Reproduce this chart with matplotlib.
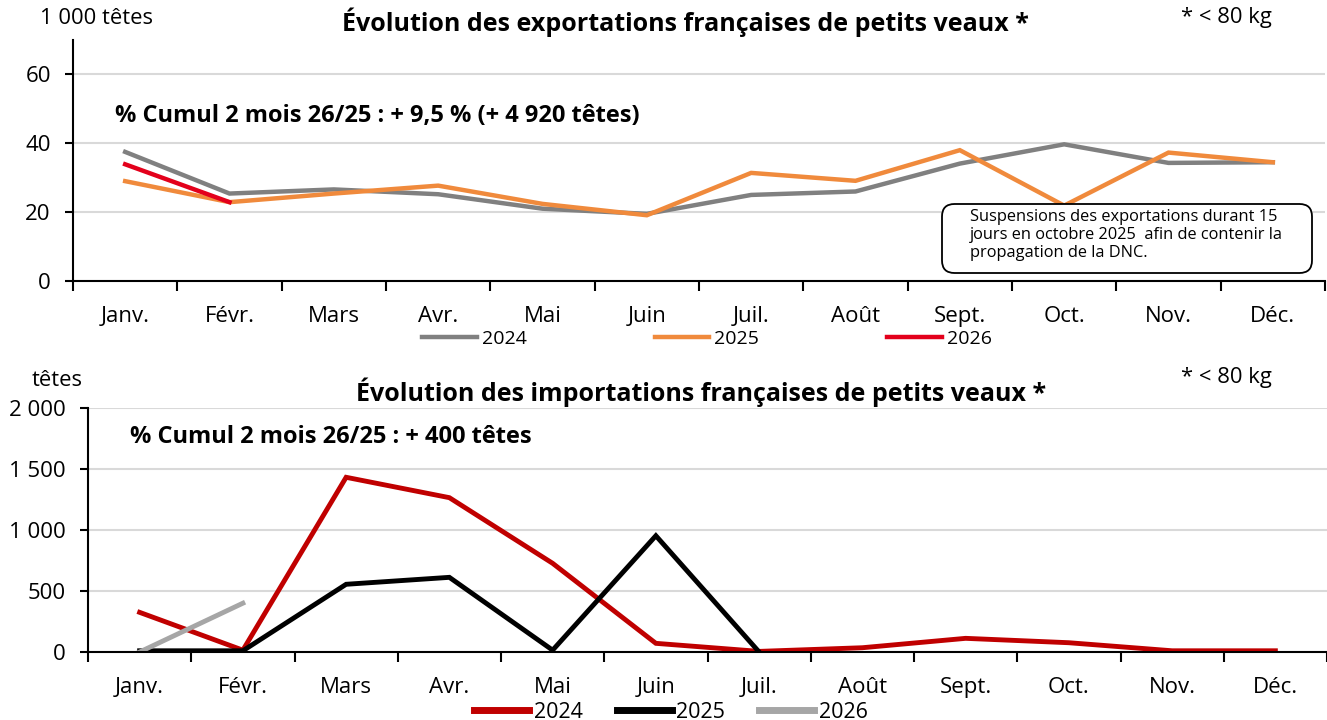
import numpy as np
import matplotlib
matplotlib.use("Agg")
import matplotlib.pyplot as plt
from matplotlib.patches import FancyBboxPatch

plt.rcParams['font.family'] = ['Open Sans', 'DejaVu Sans']

# months (x categories)
months = ["Janv.", "Févr.", "Mars", "Avr.", "Mai", "Juin",
          "Juil.", "Août", "Sept.", "Oct.", "Nov.", "Déc."]

# exports, 1000 heads
exp_2024 = [37.5, 25.4, 26.6, 25.2, 21.0, 19.5, 25.0, 26.0, 34.1, 39.7, 34.3, 34.5]
exp_2025 = [29.0, 22.9, 25.4, 27.7, 22.4, 19.1, 31.4, 29.1, 38.0, 21.9, 37.3, 34.5]
exp_2026 = [33.9, 22.9]

# imports, heads
imp_2024 = [325, 15, 1432, 1265, 727, 71, 5, 35, 112, 76, 10, 10]
imp_2025 = [10, 10, 555, 612, 15, 953, 0]
imp_2026 = [0, 400]

W, H = 1327, 720
fig = plt.figure(figsize=(W / 100, H / 100), dpi=100)

def px_axes(l, t, r, b):
    return fig.add_axes([l / W, 1 - b / H, (r - l) / W, (b - t) / H])

def style_axes(ax, ymax, yticks, yticklabels):
    ax.set_ylim(0, ymax)
    ax.set_yticks(yticks)
    ax.set_yticklabels(yticklabels)
    ax.grid(axis='y', color='#d9d9d9', lw=1.5)
    ax.set_axisbelow(True)
    for s in ['top', 'right']:
        ax.spines[s].set_visible(False)
    ax.spines['left'].set_linewidth(1.5)
    ax.spines['bottom'].set_linewidth(1.5)
    ax.spines['bottom'].set_zorder(5)
    ax.set_xticks(range(12))
    ax.set_xticklabels(months)
    ax.set_xticks(np.arange(-0.5, 12, 1), minor=True)
    ax.tick_params(axis='x', which='major', length=0, pad=18, labelsize=16)
    ax.tick_params(axis='x', which='minor', length=7, width=1.5, direction='out')
    ax.tick_params(axis='y', length=6, width=1.5, labelsize=16, pad=10)

# ---------- exports ----------
ax1 = px_axes(73, 40, 1325, 281)
x = np.arange(12)
ax1.plot(x, exp_2024, color='#808080', lw=3.2, label='2024', solid_joinstyle='miter')
ax1.plot(x, exp_2025, color='#f08a3c', lw=3.2, label='2025', solid_joinstyle='miter')
ax1.plot(x[:len(exp_2026)], exp_2026, color='#e3001b', lw=3.2, label='2026')
ax1.set_xlim(-0.5, 11.5)
style_axes(ax1, 70, [0, 20, 40, 60], ['0', '20', '40', '60'])

fig.text(685 / W, 1 - 22 / H, "Évolution des exportations françaises de petits veaux *",
         ha='center', va='center', fontsize=18, fontweight='bold')
fig.text(40 / W, 1 - 18 / H, "1 000 têtes", ha='left', va='center', fontsize=15.8)
fig.text(1272 / W, 1 - 18 / H, "* < 80 kg", ha='right', va='center', fontsize=15.8)
fig.text(115 / W, 1 - 116 / H, "% Cumul 2 mois 26/25 : + 9,5 % (+ 4 920 têtes)",
         ha='left', va='center', fontsize=17, fontweight='bold')

box = FancyBboxPatch(((942 - 73) / 1252, (281 - 273) / 241),
                     (1312 - 942) / 1252, (273 - 204) / 241,
                     boxstyle='round,pad=0,rounding_size=0.01',
                     transform=ax1.transAxes, fc='white', ec='black', lw=1.3,
                     mutation_aspect=1252 / 241, zorder=6)
ax1.add_patch(box)
ax1.text((970 - 73) / 1252, (281 - 209) / 241,
         "Suspensions des exportations durant 15\njours en octobre 2025  afin de contenir la\npropagation de la DNC.",
         transform=ax1.transAxes, ha='left', va='top', fontsize=11.8,
         linespacing=1.15, zorder=7)

fig.legend(handles=ax1.get_lines(), loc='center', bbox_to_anchor=(707 / W, 1 - 339 / H),
           ncol=3, frameon=False, fontsize=14, handlelength=2.8, handletextpad=0.25,
           columnspacing=6.6, borderpad=0)

# ---------- imports ----------
ax2 = px_axes(88, 408, 1327, 652)
ax2.plot(x, imp_2024, color='#c00000', lw=3.5, label='2024', solid_joinstyle='miter')
ax2.plot(x[:len(imp_2025)], imp_2025, color='#000000', lw=3.5, label='2025', solid_joinstyle='miter')
ax2.plot(x[:len(imp_2026)], imp_2026, color='#a6a6a6', lw=3.5, label='2026')
ax2.set_xlim(-0.5, -0.5 + (1327 - 88) / 104.0)
style_axes(ax2, 2000, [0, 500, 1000, 1500, 2000], ['0', '500', '1 000', '1 500', '2 000'])

fig.text(701 / W, 1 - 392 / H, "Évolution des importations françaises de petits veaux *",
         ha='center', va='center', fontsize=18, fontweight='bold')
fig.text(32 / W, 1 - 381 / H, "têtes", ha='left', va='center', fontsize=15.8)
fig.text(1272 / W, 1 - 377 / H, "* < 80 kg", ha='right', va='center', fontsize=15.8)
fig.text(130 / W, 1 - 437 / H, "% Cumul 2 mois 26/25 : + 400 têtes",
         ha='left', va='center', fontsize=17, fontweight='bold')

leg2 = fig.legend(handles=ax2.get_lines(), loc='center', bbox_to_anchor=(671 / W, 1 - 712 / H),
                  ncol=3, frameon=False, fontsize=15.5, handlelength=2.55, handletextpad=0.2,
                  columnspacing=1.6, borderpad=0)
for h in leg2.legend_handles:
    h.set_linewidth(5)

fig.savefig("out.png", dpi=100)
